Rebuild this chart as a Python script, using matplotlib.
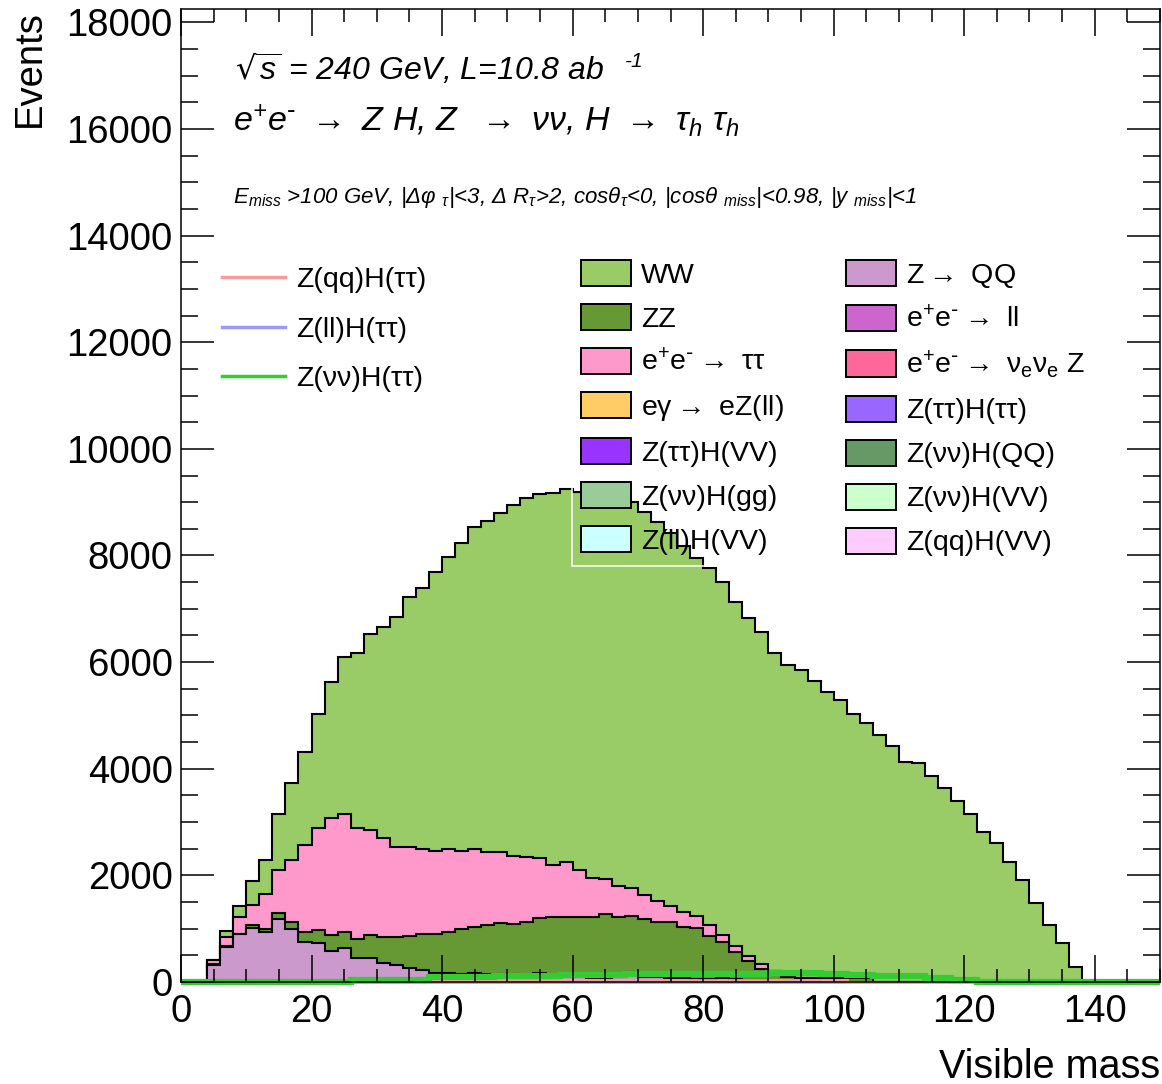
import numpy as np
import matplotlib
matplotlib.use("Agg")
import matplotlib.pyplot as plt
from matplotlib.patches import Patch
from matplotlib.lines import Line2D
from matplotlib.ticker import MultipleLocator

plt.rcParams['font.family'] = ['Liberation Sans', 'DejaVu Sans']
plt.rcParams['mathtext.default'] = 'regular'

# visible mass, 2 GeV bins from 0 to 150
edges = np.arange(0, 152, 2)

# stacked backgrounds (events per bin), bottom to top
z_qq = [0, 0, 319, 663, 894, 1006, 940, 1175, 1000, 756,
        725, 580, 640, 444, 444, 350, 319, 256, 225, 163,
        169, 150, 175, 144, 144, 150, 140, 160, 130, 120,
        110, 70, 70, 100, 180, 100, 90, 80, 70, 60,
        60, 80, 50, 40, 30, 20, 20, 0, 0, 0,
        0, 0, 0, 0, 0, 0, 0, 0, 0, 0,
        0, 0, 0, 0, 0, 0, 0, 0, 0, 0,
        0, 0, 0, 0, 0]
zz = [0, 0, 11, 12, 6, 63, 48, 125, 125, 182,
      245, 308, 304, 368, 444, 488, 531, 607, 669, 731,
      762, 838, 863, 925, 956, 944, 991, 1034, 1083, 1095,
      1110, 1150, 1205, 1113, 1064, 1088, 1041, 1051, 968, 946,
      803, 664, 519, 354, 214, 185, 70, 70, 80, 80,
      70, 70, 70, 0, 0, 0, 0, 0, 0, 0,
      0, 0, 0, 0, 0, 0, 0, 0, 0, 0,
      0, 0, 0, 0, 0]
tautau = [0, 0, 85, 175, 313, 375, 662, 800, 1162, 1631,
          1911, 2181, 2200, 2069, 1962, 1856, 1688, 1668, 1594, 1569,
          1557, 1475, 1450, 1362, 1331, 1275, 1207, 1125, 981, 1035,
          880, 740, 650, 593, 521, 443, 391, 289, 268, 238,
          206, 137, 112, 94, 87, 8, 10, 0, 0, 0,
          0, 0, 0, 0, 0, 0, 0, 0, 0, 0,
          0, 0, 0, 0, 0, 0, 0, 0, 0, 0,
          0, 0, 0, 0, 0]
ww = [0, 0, 5, 105, 207, 453, 630, 1044, 1438, 1750,
      2138, 2556, 2944, 3294, 3675, 3969, 4300, 4682, 4900, 5218,
      5487, 5762, 6050, 6219, 6357, 6587, 6731, 6837, 6987, 6994,
      7100, 7210, 7195, 7254, 7241, 7188, 7109, 7000, 6874, 6706,
      6687, 6625, 6438, 6343, 6232, 5962, 5844, 5780, 5564, 5364,
      5218, 4949, 4780, 4631, 4431, 4131, 4100, 3863, 3631, 3400,
      3144, 2819, 2600, 2256, 1913, 1475, 1069, 725, 280, 0,
      0, 0, 0, 0, 0]

# signal histograms (drawn as lines)
sig_qq = [0, 0, 0, 0, 0, 0, 0, 0, 0, 0,
          0, 0, 0, 10, 10, 10, 10, 10, 10, 10,
          10, 10, 10, 10, 10, 10, 10, 10, 10, 45,
          45, 45, 45, 45, 45, 45, 45, 45, 45, 45,
          45, 45, 45, 45, 45, 45, 45, 45, 45, 45,
          45, 0, 0, 0, 0, 0, 0, 0, 0, 0,
          0, 0, 0, 0, 0, 0, 0, 0, 0, 0,
          0, 0, 0, 0, 0]
sig_ll = [0, 0, 0, 0, 0, 0, 0, 0, 0, 0,
          0, 0, 0, 8, 8, 8, 8, 8, 8, 8,
          8, 8, 8, 8, 8, 8, 8, 8, 8, 8,
          8, 8, 8, 8, 8, 8, 8, 8, 8, 8,
          8, 8, 8, 8, 8, 8, 8, 8, 8, 8,
          8, 8, 8, 8, 8, 8, 8, 8, 8, 8,
          8, 0, 0, 0, 0, 0, 0, 0, 0, 0,
          0, 0, 0, 0, 0]
sig_vv = [0, 0, 0, 0, 0, 0, 0, 0, 0, 0,
          0, 0, 0, 45, 45, 45, 45, 45, 45, 90,
          90, 90, 90, 90, 105, 105, 105, 105, 105, 138,
          138, 138, 138, 138, 157, 157, 157, 157, 157, 157,
          157, 157, 157, 157, 157, 175, 175, 175, 175, 155,
          155, 125, 125, 105, 105, 105, 105, 75, 75, 45,
          45, 0, 0, 0, 0, 0, 0, 0, 0, 0,
          0, 0, 0, 0, 0]

arrow = r"$\rightarrow$"
epem = r"e$^{+}$e$^{\text{-}}$"
bkg_labels = ["WW", "ZZ", epem + arrow + " ττ", "eγ" + arrow + " eZ(ll)", "Z(ττ)H(VV)",
              "Z(νν)H(gg)", "Z(ll)H(VV)", "Z" + arrow + " QQ", epem + arrow + " ll",
              epem + arrow + r" ν$_{e}$ν$_{e}$ Z", "Z(ττ)H(ττ)", "Z(νν)H(QQ)",
              "Z(νν)H(VV)", "Z(qq)H(VV)"]
bkg_colors = ["#99cc66", "#669933", "#ff99cc", "#ffcc66", "#9933ff",
              "#99cc99", "#ccffff", "#cc99cc", "#cc66cc", "#ff6699",
              "#9966ff", "#669966", "#ccffcc", "#ffccff"]
sig_labels = ["Z(qq)H(ττ)", "Z(ll)H(ττ)", "Z(νν)H(ττ)"]
sig_colors = ["#ff9999", "#9999ff", "#33cc33"]

W, H = 1162, 1084
fig = plt.figure(figsize=(W / 100, H / 100), dpi=100)
ax = fig.add_axes([181 / W, 102 / H, 979 / W, 973 / H])

# stack: draw cumulative sums from the top down
stack = [(z_qq, "#cc99cc"), (zz, "#669933"), (tautau, "#ff99cc"), (ww, "#99cc66")]
cum = np.cumsum([np.array(v, dtype=float) for v, _ in stack], axis=0)
for i in reversed(range(len(stack))):
    ax.stairs(cum[i], edges, baseline=0, fill=True, facecolor=stack[i][1],
              edgecolor="black", lw=1.5)

for vals, col, lw in [(sig_ll, sig_colors[1], 2.0), (sig_qq, sig_colors[0], 2.0),
                      (sig_vv, sig_colors[2], 4.5)]:
    ax.stairs(vals, edges, baseline=0, color=col, lw=lw, clip_on=False)

ax.set_xlim(0, 150)
ax.set_ylim(0, 18250)
ax.xaxis.set_major_locator(MultipleLocator(20))
ax.xaxis.set_minor_locator(MultipleLocator(5))
ax.yaxis.set_major_locator(MultipleLocator(2000))
ax.yaxis.set_minor_locator(MultipleLocator(500))
ax.tick_params(which="both", direction="in", top=True, right=True, width=1.1)
ax.tick_params(axis="x", which="major", length=19.5, labelsize=27.5, pad=9)
ax.tick_params(axis="x", which="minor", length=9.5)
ax.tick_params(axis="y", which="major", length=23.8, labelsize=27.5, pad=6)
ax.tick_params(axis="y", which="minor", length=12)
for sp in ax.spines.values():
    sp.set_linewidth(1.1)

fig.text(30 / W, 1 - 10 / H, "Events", rotation=90, ha="center", va="top", fontsize=27.5)
fig.text(1160 / W, 1 - 1078 / H, "Visible mass", ha="right", va="baseline", fontsize=28.5)

# annotations
ax.text(0.055, 0.927, r"$\sqrt{s}$ = 240 GeV, L=10.8 ab", transform=ax.transAxes,
        fontsize=23, style="italic", va="baseline")
ax.text(0.4535, 0.9404, "-1", transform=ax.transAxes, fontsize=15, style="italic",
        va="baseline")
ax.text(0.0531, 0.8746,
        r"e$^{+}$e$^{\text{-}}$ $\rightarrow$ Z H, Z  $\rightarrow$ νν, H $\rightarrow$ τ$_{h}$ τ$_{h}$",
        transform=ax.transAxes, fontsize=24.5, style="italic", va="baseline")
ax.text(0.0531, 0.8006,
        r"E$_{miss}$ >100 GeV, |Δφ $_{τ}$|<3, Δ R$_{τ}$>2, cosθ$_{τ}$<0, "
        r"|cosθ $_{miss}$|<0.98, |y $_{miss}$|<1",
        transform=ax.transAxes, fontsize=16, style="italic", va="baseline")

# legends
sig_handles = [Line2D([], [], color=c, lw=2.5) for c in sig_colors]
leg1 = ax.legend(sig_handles, sig_labels, loc="center left",
                 bbox_to_anchor=(0.0419, 0.6706), frameon=False, fontsize=20.5,
                 handlelength=2.2, handletextpad=0.42, labelspacing=0.81,
                 borderpad=0, borderaxespad=0)
ax.add_artist(leg1)

bkg_handles = [Patch(facecolor=c, edgecolor="black", lw=1.4) for c in bkg_colors]
leg2 = ax.legend(bkg_handles, bkg_labels, loc="center left", ncol=2,
                 bbox_to_anchor=(0.3994, 0.5899), fontsize=20.5,
                 handlelength=1.75, handleheight=1.05, handletextpad=0.35,
                 labelspacing=0.53, columnspacing=2.2, borderpad=0.32,
                 borderaxespad=0, fancybox=False, framealpha=1)
leg2.get_frame().set_facecolor("none")
leg2.get_frame().set_edgecolor("white")
leg2.get_frame().set_linewidth(1.1)

fig.savefig("out.png", dpi=100)
